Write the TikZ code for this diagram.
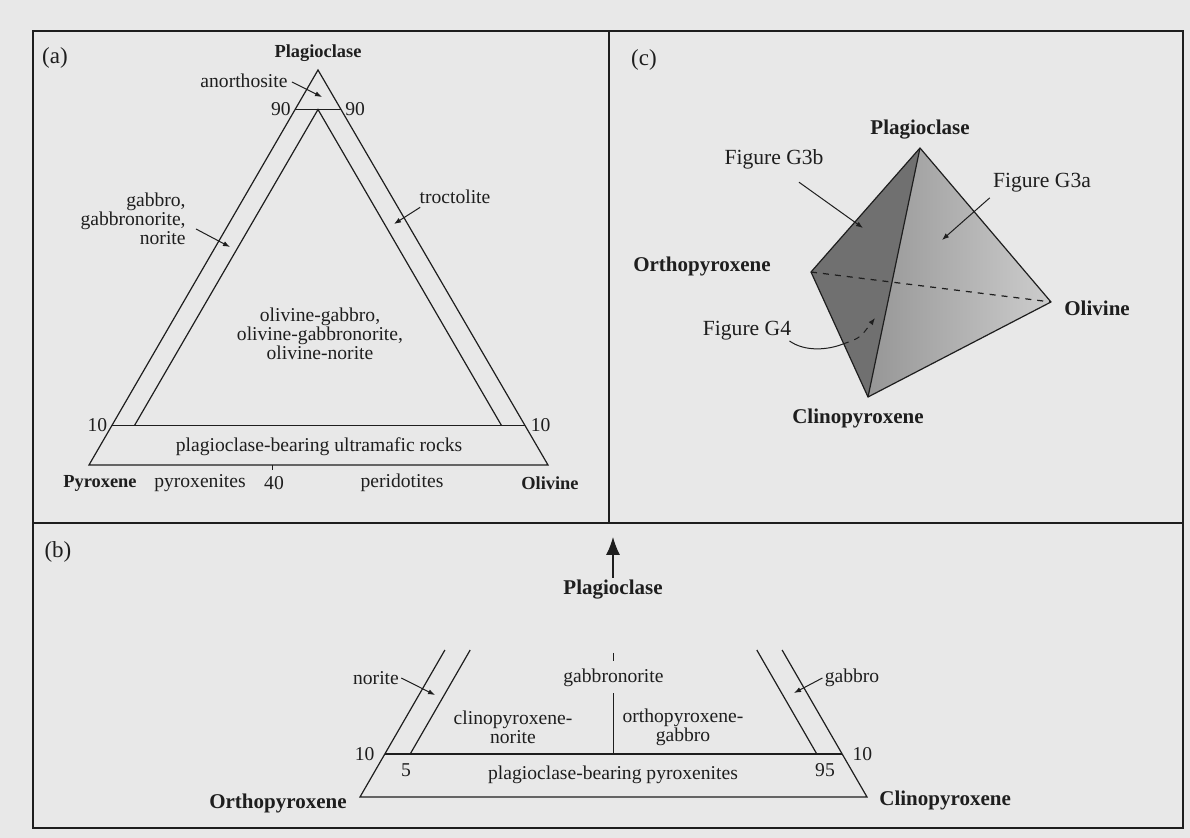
\documentclass[tikz,border=0pt]{standalone}
\usepackage{fontspec}
\setmainfont{Liberation Serif}
\usetikzlibrary{arrows.meta,positioning}

\definecolor{paper}{RGB}{232,232,232}
\definecolor{ink}{RGB}{30,30,30}
\definecolor{faceA}{RGB}{112,112,112}
\definecolor{faceB}{RGB}{150,150,150}
\definecolor{faceC}{RGB}{205,205,205}

\begin{document}
\begin{tikzpicture}[x=0.5pt, y=-0.5pt,
    txt/.style={font=\fontsize{9.8}{9.6}\selectfont, text=ink, inner sep=1pt, align=center},
    ctxt/.style={font=\fontsize{10.8}{11}\selectfont, text=ink, inner sep=1pt},
    corner/.style={font=\fontsize{9.2}{10}\selectfont\bfseries, text=ink, inner sep=1pt},
    bigcorner/.style={font=\fontsize{10.5}{11}\selectfont\bfseries, text=ink, inner sep=1pt},
    tag/.style={font=\fontsize{11.5}{12}\selectfont, text=ink},
    ptr/.style={draw=ink, line width=0.5pt, -{Latex[length=3.5pt,width=2.6pt]}},
    seg/.style={draw=ink, line width=0.6pt}]

\useasboundingbox (0,0) rectangle (1190,838);
\fill[paper] (0,0) rectangle (1190,838);

% frame
\draw[ink, line width=1.1pt] (33,31) rectangle (1183,828);
\draw[ink, line width=1.1pt] (33,523) -- (1183,523);
\draw[ink, line width=1.1pt] (609,31) -- (609,523);

\node[tag] (taga) at (55,58) {(a)};
\node[tag] (tagb) at (58,552) {(b)};
\node[tag] (tagc) at (644,60) {(c)};

% (a) plagioclase - pyroxene - olivine
\coordinate (aP) at (318,70);
\coordinate (aX) at (89,465);
\coordinate (aO) at (548,465);
\coordinate (a90l) at (295,109.5);
\coordinate (a90r) at (341,109.5);
\coordinate (a10l) at (111.5,425.5);
\coordinate (a10r) at (524.5,425.5);
\coordinate (aIn) at (318,109.5);
\coordinate (aInl) at (134.5,425.5);
\coordinate (aInr) at (501.5,425.5);
\coordinate (a40) at (272.6,465);

\draw[seg] (aP) -- (aX) -- (aO) -- cycle;
\draw[seg] (a90l) -- (a90r);
\draw[seg] (a10l) -- (a10r);
\draw[seg] (aInl) -- (aIn) -- (aInr);
\draw[seg] (a40) -- ++(0,5);

\node[corner, above=3pt of aP] (aPlag) {Plagioclase};
\node[corner] (aPyx) at (100,483) {Pyroxene};
\node[corner] (aOl) at (550,483) {Olivine};
\node[txt] (pyxt) at (200,483) {pyroxenites};
\node[txt] (n40) at (274,483) {40};
\node[txt] (peri) at (402,483) {peridotites};
\node[txt, left=1pt of a90l] (n90l) {90};
\node[txt, right=1pt of a90r] (n90r) {90};
\node[txt, left=1pt of a10l] (n10l) {10};
\node[txt, right=2pt of a10r] (n10r) {10};
\node[txt] (anor) at (244,81) {anorthosite};
\node[txt, align=right, anchor=east] (gabA) at (188,219) {gabbro,\\gabbronorite,\\norite};
\node[txt] (troc) at (455,197) {troctolite};
\node[txt] (olgab) at (320,334) {olivine-gabbro,\\olivine-gabbronorite,\\olivine-norite};
\node[txt] (pbur) at (319,447) {plagioclase-bearing ultramafic rocks};

\coordinate (anorTip) at (322,97);
\coordinate (gabTip) at (230,247);
\coordinate (trocTip) at (394,224);
\draw[ptr] ([shift={(2,1)}]anor.east) -- (anorTip);
\draw[ptr] ([shift={(8,10)}]gabA.east) -- (gabTip);
\draw[ptr] ([shift={(3,1)}]troc.south west) -- (trocTip);

% (c) tetrahedron
\coordinate (cP) at (920,148);
\coordinate (cX) at (811,272);
\coordinate (cO) at (1051,302);
\coordinate (cC) at (868,397);

\shade[left color=faceB, right color=faceC] (cP) -- (cC) -- (cO) -- cycle;
\fill[faceA] (cP) -- (cX) -- (cC) -- cycle;
\draw[seg, dashed] (cX) -- (cO);
\draw[seg, line join=round] (cP) -- (cX) -- (cC) -- (cO) -- cycle;
\draw[seg] (cP) -- (cC);

\node[bigcorner, above=3pt of cP] (cPlag) {Plagioclase};
\node[bigcorner, anchor=east] (cOpx) at (773,266) {Orthopyroxene};
\node[bigcorner, anchor=west] (cOl) at (1062,308) {Olivine};
\node[bigcorner] (cCpx) at (858,418) {Clinopyroxene};
\node[ctxt] (g3b) at (774,159) {Figure G3b};
\node[ctxt] (g3a) at (1042,183) {Figure G3a};
\node[ctxt] (g4) at (747,331) {Figure G4};

\coordinate (g3bTip) at (863,228);
\coordinate (g3aTip) at (942,240);
\coordinate (g4Mid) at (843,344);
\coordinate (g4Tip) at (875,318);
\draw[ptr] ([shift={(25,11)}]g3b.south) -- (g3bTip);
\draw[ptr] ([shift={(-1,3)}]g3a.south west) -- (g3aTip);
\draw[seg, line width=0.5pt] ([shift={(-4,10)}]g4.east) .. controls (805,352) and (828,350) .. (g4Mid);
\draw[ptr, dashed] (g4Mid) .. controls (860,338) .. (g4Tip);

% (b) plagioclase - orthopyroxene - clinopyroxene
\coordinate (bX) at (360,797);
\coordinate (bC) at (867,797);
\coordinate (bXt) at (444.9,650);
\coordinate (bCt) at (782.1,650);
\coordinate (b10l) at (384.8,754);
\coordinate (b10r) at (842.2,754);
\coordinate (bInl) at (410.2,754);
\coordinate (bInlt) at (470.2,650);
\coordinate (bInr) at (816.8,754);
\coordinate (bInrt) at (756.8,650);
\coordinate (bMid) at (613.5,754);
\coordinate (bTick) at (613.5,653);
\coordinate (bUp) at (613,537);

\draw[seg] (bXt) -- (bX) -- (bC) -- (bCt);
\draw[seg] (b10l) -- (b10r);
\draw[seg] (bInl) -- (bInlt);
\draw[seg] (bInr) -- (bInrt);

\node[bigcorner] (bPlag) at (613,590) {Plagioclase};
\draw[ink, line width=0.6pt, -{Latex[length=9pt,width=7pt]}] (bPlag.north) -- (bUp);

\node[txt] (gabnor) at (613.5,678) {gabbronorite};
\draw[seg, shorten >=3pt] (bTick) -- (gabnor.north);
\draw[seg, shorten >=2pt] (bMid) -- (gabnor.south);

\node[txt] (nor) at (376,678) {norite};
\node[txt] (gabB) at (852,678) {gabbro};
\coordinate (norTip) at (435,695);
\coordinate (gabBTip) at (794,693);
\draw[ptr] (nor.east) -- (norTip);
\draw[ptr] (gabB.west) -- (gabBTip);

\node[txt] (cpxn) at (513,727) {clinopyroxene-\\norite};
\node[txt] (opxg) at (683,727) {orthopyroxene-\\gabbro};
\node[txt] (pbp) at (613,775) {plagioclase-bearing pyroxenites};
\node[txt] (n5) at (406,770) {5};
\node[txt] (n95) at (825,770) {95};
\node[txt, left=4pt of b10l] (n10bl) {10};
\node[txt, right=4pt of b10r] (n10br) {10};
\node[bigcorner, anchor=east] (bOpx) at (349,803) {Orthopyroxene};
\node[bigcorner, anchor=west] (bCpx) at (877,800) {Clinopyroxene};

\end{tikzpicture}
\end{document}
